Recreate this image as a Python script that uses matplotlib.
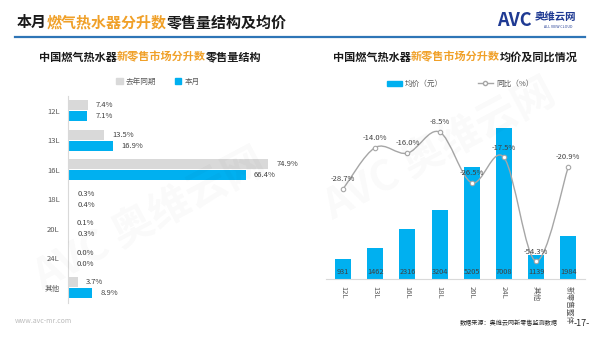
import matplotlib
matplotlib.use("Agg")
import matplotlib.pyplot as plt
from matplotlib.path import Path
from matplotlib.patches import PathPatch, Patch
from matplotlib.lines import Line2D
import numpy as np

plt.rcParams['font.family'] = ['Noto Sans CJK SC', 'DejaVu Sans']

# ---------------- data ----------------
left_categories = ["12L", "13L", "16L", "18L", "20L", "24L", "其他"]
share_last_year = [7.4, 13.5, 74.9, 0.3, 0.1, 0.0, 3.7]
share_this_month = [7.1, 16.9, 66.4, 0.4, 0.3, 0.0, 8.9]

right_categories = ["12L", "13L", "16L", "18L", "20L", "24L", "其他", "新零售整体"]
avg_price = [931, 1462, 2316, 3204, 5205, 7008, 1139, 1984]
yoy_change = [-28.7, -14.0, -16.0, -8.5, -26.5, -17.5, -54.3, -20.9]

# ---------------- style ----------------
BLUE = "#00B0F0"
GRAY_BAR = "#D9D9D9"
ORANGE = "#F0A028"
TXT = "#404040"
AX_GRAY = "#D9D9D9"
LINE_GRAY = "#A6A6A6"

fig = plt.figure(figsize=(6.0, 3.38), dpi=100)
W, H = 600.0, 338.0
renderer = fig.canvas.get_renderer()

def fx(px):
    return px / W

def fy(py):
    return 1 - py / H

def multi_text(x_px, y_px, parts, size, align="left"):
    """Draw coloured text pieces one after another on one line."""
    arts = []
    for text, col in parts:
        arts.append(fig.text(0, fy(y_px), text, fontsize=size, fontweight="bold", color=col, va="center"))
    widths = [a.get_window_extent(renderer).width for a in arts]
    total = sum(widths)
    x0 = x_px - total / 2 if align == "center" else x_px
    for a, w in zip(arts, widths):
        a.set_x(fx(x0))
        x0 += w

# watermarks (very faint)
for (x, y) in [(150, 220), (440, 150)]:
    fig.text(fx(x), fy(y), "AVC 奥维云网", fontsize=30, color="#000000", alpha=0.022,
             rotation=28, ha="center", va="center", fontweight="bold")

# ---------------- header ----------------
multi_text(17, 22, [("本月", "#1a1a1a"), ("燃气热水器分升数", ORANGE), ("零售量结构及均价", "#1a1a1a")], 10.8)
fig.add_artist(Line2D([fx(15), fx(585)], [fy(37), fy(37)], color="#2E75B6", lw=1.6))

# logo
fig.text(fx(497), fy(20), "AVC", fontsize=13, fontweight="bold", fontstyle="italic", color="#1F3A93", va="center")
fig.text(fx(535), fy(17), "奥维云网", fontsize=7.5, fontweight="bold", color="#1F3A93", va="center")
fig.text(fx(544), fy(27), "ALL VIEW CLOUD", fontsize=2.6, color="#1F3A93", va="center")

# subtitles
multi_text(150, 57, [("中国燃气热水器", "#1a1a1a"), ("新零售市场分升数", ORANGE), ("零售量结构", "#1a1a1a")], 8.0, "center")
multi_text(455, 57, [("中国燃气热水器", "#1a1a1a"), ("新零售市场分升数", ORANGE), ("均价及同比情况", "#1a1a1a")], 8.0, "center")

# ---------------- left chart ----------------
axl = fig.add_axes([fx(68), fy(302.5), fx(290) - fx(68), (302.5 - 96) / H])
y = np.arange(len(left_categories))
bh = 0.34
off = 0.19
axl.barh(y - off, share_last_year, height=bh, color=GRAY_BAR, label="去年同期")
axl.barh(y + off, share_this_month, height=bh, color=BLUE, label="本月")
axl.set_ylim(len(left_categories) - 0.5, -0.5)
axl.set_xlim(0, 83)
for i in range(len(left_categories)):
    axl.annotate(f"{share_last_year[i]:.1f}%", (share_last_year[i], y[i] - off), xytext=(6, 0),
                 textcoords="offset points", va="center", ha="left", fontsize=5.5, color=TXT)
    axl.annotate(f"{share_this_month[i]:.1f}%", (share_this_month[i], y[i] + off), xytext=(6, 0),
                 textcoords="offset points", va="center", ha="left", fontsize=5.5, color=TXT)
axl.set_yticks(y)
axl.set_yticklabels(left_categories, fontsize=5.5, color="#595959")
axl.tick_params(axis="y", length=0, pad=6)
axl.set_xticks([])
for s in ["top", "right", "bottom"]:
    axl.spines[s].set_visible(False)
axl.spines["left"].set_color(AX_GRAY)
axl.spines["left"].set_linewidth(0.8)
axl.patch.set_alpha(0)
fig.legend(handles=[Patch(color=GRAY_BAR, label="去年同期"), Patch(color=BLUE, label="本月")],
           loc="center", bbox_to_anchor=(fx(158), fy(82)), ncol=2, frameon=False, fontsize=5.5,
           handlelength=0.8, handleheight=0.8, handletextpad=0.4, columnspacing=2.5, labelcolor="#595959")

# ---------------- right chart ----------------
axr = fig.add_axes([fx(326), fy(279), fx(585) - fx(326), (279 - 107) / H])
x = np.arange(len(right_categories))
axr.bar(x, avg_price, width=0.5, color=BLUE, zorder=2)
axr.set_xlim(-0.53, 7.52)
axr.set_ylim(0, 8000)
for i, v in enumerate(avg_price):
    axr.annotate(f"{v}", (x[i], 0), xytext=(0, 5), textcoords="offset points", ha="center",
                 va="center", fontsize=5.3, color=TXT, zorder=5)
axr.set_yticks([])
axr.set_xticks(x)
axr.set_xticklabels(right_categories, rotation=-90, fontsize=5.5, color="#595959", va="top", ha="center")
axr.tick_params(axis="x", length=0, pad=5)
for s in ["top", "right", "left"]:
    axr.spines[s].set_visible(False)
axr.spines["bottom"].set_color(AX_GRAY)
axr.spines["bottom"].set_linewidth(0.8)
axr.patch.set_alpha(0)

ax2 = axr.twinx()
ax2.set_ylim(-60.6, 0.37)
ax2.set_yticks([])
for s in ["top", "right", "left", "bottom"]:
    ax2.spines[s].set_visible(False)

# smooth curve (Catmull-Rom as cubic Bezier) through the data points
pts = np.column_stack([x.astype(float), np.array(yoy_change, dtype=float)])
verts = [tuple(pts[0])]
codes = [Path.MOVETO]
n = len(pts)
for i in range(n - 1):
    p0 = pts[i - 1] if i > 0 else pts[i]
    p1 = pts[i]
    p2 = pts[i + 1]
    p3 = pts[i + 2] if i + 2 < n else pts[i + 1]
    c1 = p1 + (p2 - p0) / 6.0
    c2 = p2 - (p3 - p1) / 6.0
    verts += [tuple(c1), tuple(c2), tuple(p2)]
    codes += [Path.CURVE4] * 3
ax2.add_patch(PathPatch(Path(verts, codes), facecolor="none", edgecolor=LINE_GRAY, lw=1.0, zorder=3))
ax2.plot(x, yoy_change, linestyle="none", marker="o", markersize=3.2, markerfacecolor="white",
         markeredgecolor=LINE_GRAY, markeredgewidth=0.8, zorder=4)
for i, v in enumerate(yoy_change):
    ax2.annotate(f"{v:.1f}%", (x[i], v), xytext=(0, 7), textcoords="offset points", ha="center",
                 va="center", fontsize=5.5, color=TXT, zorder=5)

fig.legend(handles=[Patch(color=BLUE, label="均价（元）"),
                    Line2D([], [], color=LINE_GRAY, lw=1.0, marker="o", markersize=3,
                           markerfacecolor="white", markeredgecolor=LINE_GRAY, label="同比（%）")],
           loc="center", bbox_to_anchor=(fx(460), fy(84)), ncol=2, frameon=False, fontsize=5.5,
           handlelength=2.0, handleheight=0.7, handletextpad=0.4, columnspacing=4.5, labelcolor="#595959")

# ---------------- footer ----------------
fig.text(fx(15), fy(321), "www.avc-mr.com", fontsize=5, color="#BBBBBB", va="center")
fig.text(fx(460), fy(323), "数据来源：奥维云网新零售监测数据", fontsize=4.4, color="#262626", va="center")
fig.text(fx(574), fy(323), "-17-", fontsize=6.5, color="#262626", va="center")

fig.savefig("out.png", dpi=100)
